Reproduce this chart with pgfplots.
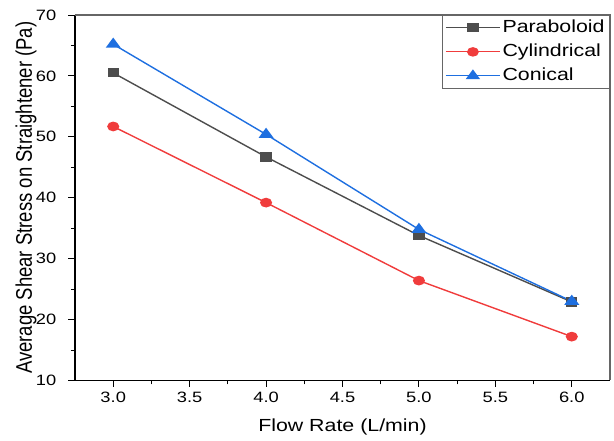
\documentclass[border=0pt]{standalone}
\usepackage{pgfplots}
\pgfplotsset{compat=1.18}
\usepackage{fontspec}
\setmainfont[FakeStretch=1.22]{Liberation Sans}
\newfontfamily\ylfont{Liberation Sans}
\definecolor{cpar}{HTML}{4D4D4D}
\definecolor{ccyl}{HTML}{F03C3C}
\definecolor{ccon}{HTML}{1E6FE0}
\begin{document}
\begin{tikzpicture}
\useasboundingbox (-75pt,-60.5pt) rectangle (539pt,380.5pt);
\begin{axis}[
  at={(0,0)}, anchor=south west,
  scale only axis,
  width=535pt, height=365.5pt,
  xmin=2.75, xmax=6.25, ymin=10, ymax=70,
  xtick={3,3.5,...,6}, ytick={10,20,...,70},
  minor x tick num=1, minor y tick num=1,
  /pgf/number format/assume math mode=true,
  tick label style={font=\fontsize{15}{17}\selectfont},
  xticklabel style={anchor=base, yshift=-16pt, /pgf/number format/.cd, fixed, fixed zerofill, precision=1},
  yticklabel style={anchor=east, inner sep=0pt, xshift=-12pt},
  axis x line*=bottom, axis y line*=left,
  tick align=outside,
  major tick length=6.5pt, minor tick length=4pt,
  every tick/.style={black, line width=0.9pt},
  axis line style={line width=1.1pt, black},
  xlabel={Flow Rate (L/min)},
  ylabel={\scalebox{1}[1.22]{\ylfont Average Shear Stress on Straightener (Pa)}},
  xlabel style={font=\fontsize{17.5}{19}\selectfont, at={([yshift=-51.5pt]axis description cs:0.5,0)}, anchor=base},
  ylabel style={font=\fontsize{18.5}{20}\selectfont, at={([xshift=-43pt]axis description cs:0,0.5)}, anchor=base},
  legend style={at={(1,1)}, anchor=north east, draw=black!60, line width=0.8pt,
    font=\fontsize{17.5}{19}\selectfont, row sep=7pt, inner xsep=3pt, inner ysep=4pt,
    nodes={inner ysep=0pt, inner xsep=2pt, text height=13pt, text depth=4pt}},
  legend cell align=left,
  legend image code/.code={\draw[mark repeat=2, mark phase=2, #1, line width=1.2pt] plot coordinates {(-3pt,0pt) (24pt,0pt) (51pt,0pt)};},
  clip=false,
]
\draw[line width=1.1pt, black!60] (rel axis cs:0,1) -- (rel axis cs:1,1) -- (rel axis cs:1,0);
\addplot[color=cpar, line width=1.4pt, mark=square*, mark size=3.9pt, mark options={xscale=1.28}] coordinates {
(3.0,60.5) (4.0,46.7) (5.0,33.8) (6.0,22.9)};
\addlegendentry{Paraboloid}
\addplot[color=ccyl, line width=1.4pt, mark=*, mark size=4.15pt, mark options={xscale=1.28}] coordinates {
(3.0,51.7) (4.0,39.2) (5.0,26.4) (6.0,17.2)};
\addlegendentry{Cylindrical}
\addplot[color=ccon, line width=1.4pt, mark=triangle*, mark size=5.5pt, mark options={xscale=1.28}] coordinates {
(3.0,65.2) (4.0,50.4) (5.0,34.8) (6.0,23.0)};
\addlegendentry{Conical}
\end{axis}
\end{tikzpicture}
\end{document}
